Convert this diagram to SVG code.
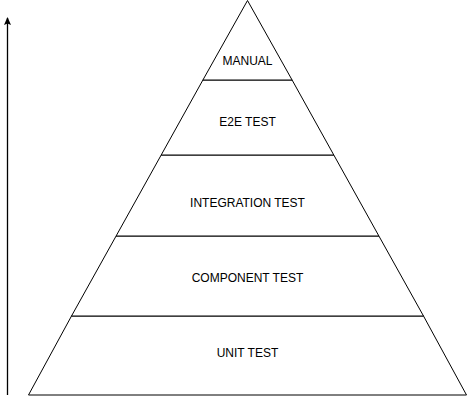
<svg xmlns="http://www.w3.org/2000/svg" width="468" height="405" viewBox="0 0 468 405">
<style>
.band{fill:#ffffff;stroke:#000000;stroke-width:1;stroke-linejoin:miter}
.lbl{font-family:"Liberation Sans",Arial,sans-serif;font-size:12px;fill:#000000;text-anchor:middle;dominant-baseline:central}
.conn{stroke:#000000;stroke-width:1.3;fill:none}
</style>
<defs>
<marker id="ah" markerWidth="8" markerHeight="8" refX="7" refY="4" orient="auto" markerUnits="userSpaceOnUse" viewBox="0 0 8 8">
<path d="M0,0.5 L8,4 L0,7.5 L1.5,4 Z" fill="#000000"/>
</marker>
</defs>
<rect width="468" height="405" fill="#ffffff"/>
<g id="unit-test">
<polygon class="band" points="71.5,316 423.5,316 466.5,395 28.5,395"/>
<text class="lbl" x="247.5" y="353">UNIT TEST</text>
</g>
<g id="component-test">
<polygon class="band" points="116.1,236 378.9,236 423.5,316 71.5,316"/>
<text class="lbl" x="247.5" y="278">COMPONENT TEST</text>
</g>
<g id="integration-test">
<polygon class="band" points="161.2,155 333.8,155 378.9,236 116.1,236"/>
<text class="lbl" x="247.5" y="203">INTEGRATION TEST</text>
</g>
<g id="e2e-test">
<polygon class="band" points="202.9,80 292.1,80 333.8,155 161.2,155"/>
<text class="lbl" x="247.5" y="122">E2E TEST</text>
</g>
<g id="manual">
<polygon class="band" points="247.5,0.5 292.1,80 202.9,80"/>
<text class="lbl" x="247.5" y="61">MANUAL</text>
</g>
<g id="connectors">
<line class="conn" x1="7.5" y1="395" x2="7.5" y2="18" marker-end="url(#ah)"/>
</g>
</svg>
